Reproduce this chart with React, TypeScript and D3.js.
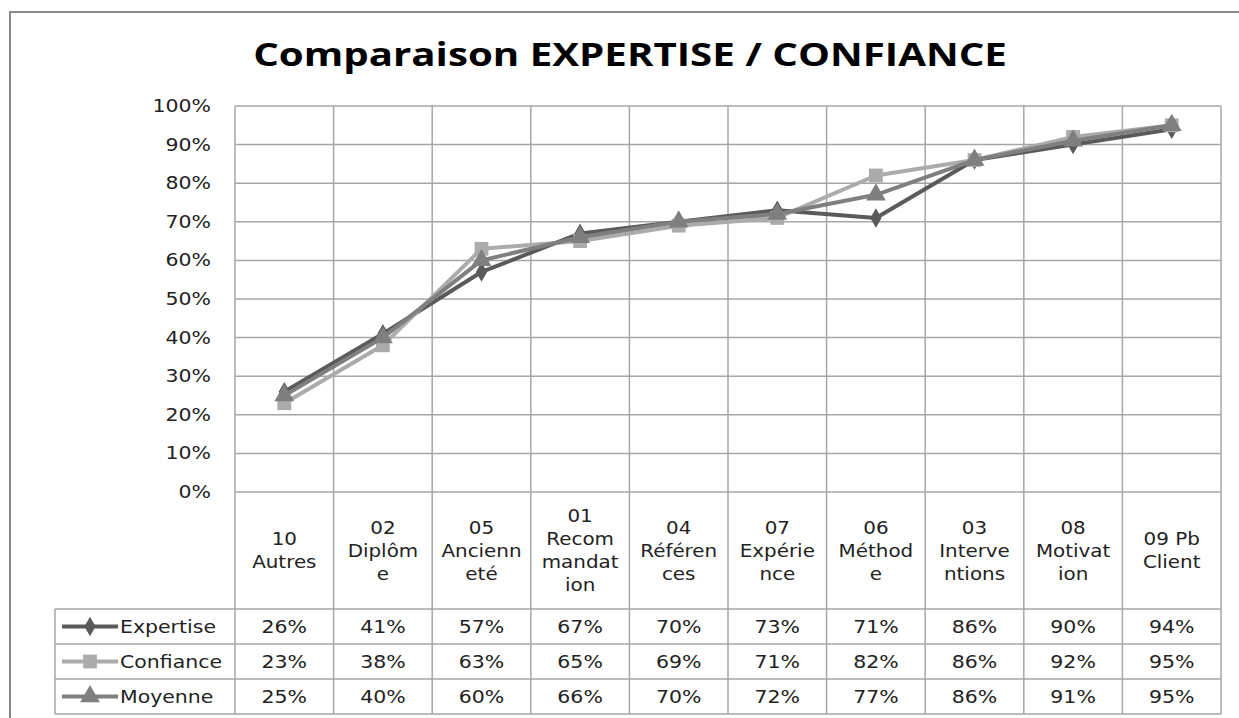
import * as d3 from "d3";

const categories = ["10 Autres", "02 Diplôme", "05 Ancienneté", "01 Recommandation", "04 Références", "07 Expérience", "06 Méthode", "03 Interventions", "08 Motivation", "09 Pb Client"];
// wrapped the way the original cell text wraps
const categoryLines = [
  ["10", "Autres"],
  ["02", "Diplôm", "e"],
  ["05", "Ancienn", "eté"],
  ["01", "Recom", "mandat", "ion"],
  ["04", "Référen", "ces"],
  ["07", "Expérie", "nce"],
  ["06", "Méthod", "e"],
  ["03", "Interve", "ntions"],
  ["08", "Motivat", "ion"],
  ["09 Pb", "Client"],
];
const expertise = [26, 41, 57, 67, 70, 73, 71, 86, 90, 94];
const confiance = [23, 38, 63, 65, 69, 71, 82, 86, 92, 95];
const moyenne = [25, 40, 60, 66, 70, 72, 77, 86, 91, 95];
const yTicks = [0, 10, 20, 30, 40, 50, 60, 70, 80, 90, 100];

const series = [
  { name: "Expertise", values: expertise, color: "#5a5a5a", symbol: d3.symbolDiamond, size: 110 },
  { name: "Confiance", values: confiance, color: "#ababab", symbol: d3.symbolSquare, size: 190 },
  { name: "Moyenne", values: moyenne, color: "#7f7f7f", symbol: d3.symbolTriangle, size: 170 },
];

const W = 1239;
const H = 718;
const left = 235;
const right = 1221;
const top = 106;
const bottom = 492;
const labelBottom = 609;
const rowH = 35;
const tableLeft = 55;
const font = "DejaVu Sans, sans-serif";
const grid = "#a6a6a6";
const stretch = 1.17; // source font is drawn wider than any installed one

// small text, stretched horizontally around its anchor
const Label = ({ x, y, anchor = "middle", size = 17.5, children }: any) => (
  <text transform={`translate(${x},${y}) scale(${stretch},1)`} textAnchor={anchor} fontFamily={font} fontSize={size} fill="#222">
    {children}
  </text>
);

export default function App() {
  const x = d3.scaleBand<string>().domain(categories).range([left, right]);
  const y = d3.scaleLinear().domain([0, 100]).range([bottom, top]);
  const cx = (i: number) => x(categories[i])! + x.bandwidth() / 2;
  const line = d3
    .line<number>()
    .x((_, i) => cx(i))
    .y((d) => y(d));
  const tableBottom = labelBottom + rowH * series.length;
  const cols = categories.map((c) => x(c)!).concat([right]);

  return (
    <svg width={W} height={H} style={{ position: "absolute", left: 0, top: 0, background: "#fff" }}>
      <rect x={10} y={12} width={W} height={H} fill="#fff" stroke="#8a8a8a" strokeWidth={2} />
      <text transform="translate(630,66) scale(1.22,1)" textAnchor="middle" fontFamily="Open Sans, sans-serif" fontWeight="bold" fontSize={33} fill="#000">
        Comparaison EXPERTISE / CONFIANCE
      </text>

      {/* horizontal grid */}
      {yTicks.map((t) => (
        <g key={t}>
          <line x1={left} x2={right} y1={y(t)} y2={y(t)} stroke={grid} strokeWidth={1.5} />
          <Label x={211} y={y(t) + 6} anchor="end">
            {t}%
          </Label>
        </g>
      ))}

      {/* vertical column lines run through the data table */}
      {cols.map((c, i) => (
        <line key={i} x1={c} x2={c} y1={top} y2={tableBottom} stroke={grid} strokeWidth={1.5} />
      ))}

      {/* category labels */}
      {categoryLines.map((lines, i) => {
        const lh = 23;
        const y0 = (bottom + labelBottom) / 2 - ((lines.length - 1) * lh) / 2 + 6;
        return (
          <g key={i}>
            {lines.map((l, j) => (
              <Label key={j} x={cx(i)} y={y0 + j * lh} size={17}>
                {l}
              </Label>
            ))}
          </g>
        );
      })}

      {/* data table */}
      {series.map((s, r) => {
        const ry = labelBottom + r * rowH;
        const mid = ry + rowH / 2;
        return (
          <g key={s.name}>
            <line x1={tableLeft} x2={right} y1={ry} y2={ry} stroke={grid} strokeWidth={1.5} />
            <line x1={62} x2={118} y1={mid} y2={mid} stroke={s.color} strokeWidth={4} />
            <path d={d3.symbol(s.symbol, s.size)()!} transform={`translate(90,${mid})`} fill={s.color} />
            <Label x={120} y={mid + 6} anchor="start">
              {s.name}
            </Label>
            {s.values.map((v, i) => (
              <Label key={i} x={cx(i)} y={mid + 6}>
                {v}%
              </Label>
            ))}
          </g>
        );
      })}
      <line x1={tableLeft} x2={right} y1={tableBottom} y2={tableBottom} stroke={grid} strokeWidth={1.5} />
      <line x1={tableLeft} x2={tableLeft} y1={labelBottom} y2={tableBottom} stroke={grid} strokeWidth={1.5} />

      {/* series lines and markers */}
      {series.map((s) => (
        <g key={s.name}>
          <path d={line(s.values)!} fill="none" stroke={s.color} strokeWidth={4} strokeLinejoin="round" />
          {s.values.map((v, i) => (
            <path key={i} d={d3.symbol(s.symbol, s.size)()!} transform={`translate(${cx(i)},${y(v)})`} fill={s.color} />
          ))}
        </g>
      ))}
    </svg>
  );
}
